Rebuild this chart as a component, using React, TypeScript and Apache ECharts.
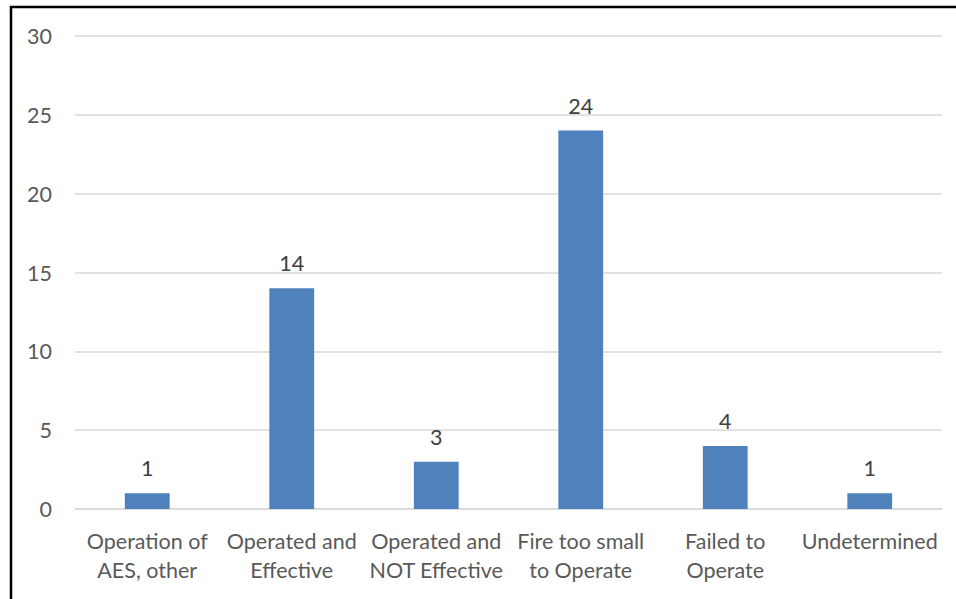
import React, { useEffect, useRef } from "react";
import * as echarts from "echarts";

const categories = [
  "Operation of\nAES, other",
  "Operated and\nEffective",
  "Operated and\nNOT Effective",
  "Fire too small\nto Operate",
  "Failed to\nOperate",
  "Undetermined",
];
const values = [1, 14, 3, 24, 4, 1];

export default function App() {
  const ref = useRef<HTMLDivElement>(null);
  useEffect(() => {
    const chart = echarts.init(ref.current!, null, { renderer: "svg" });
    const font = "Lato, 'Open Sans', sans-serif";
    chart.setOption({
      animation: false,
      backgroundColor: "#ffffff",
      graphic: [
        {
          type: "rect",
          shape: { x: 11, y: 7, width: 1000, height: 700 },
          style: { fill: "none", stroke: "#000000", lineWidth: 2.5 },
          silent: true,
        },
      ],
      grid: { left: 75, right: 14, top: 36, bottom: 90 },
      xAxis: {
        type: "category",
        data: categories,
        axisLine: { lineStyle: { color: "#d9d9d9", width: 1.5 } },
        axisTick: { show: false },
        axisLabel: {
          color: "#595959",
          fontFamily: font,
          fontSize: 21.5,
          lineHeight: 29,
          margin: 17,
          interval: 0,
        },
      },
      yAxis: {
        type: "value",
        min: 0,
        max: 30,
        interval: 5,
        axisLine: { show: false },
        axisTick: { show: false },
        splitLine: { lineStyle: { color: "#d9d9d9", width: 1.5 } },
        axisLabel: {
          color: "#595959",
          fontFamily: font,
          fontSize: 21.5,
          margin: 23,
        },
      },
      series: [
        {
          type: "bar",
          data: values,
          barWidth: "31%",
          itemStyle: { color: "#4f81bd" },
          label: {
            show: true,
            position: "top",
            distance: 14,
            color: "#404040",
            fontFamily: font,
            fontSize: 21.5,
          },
        },
      ],
    });
    return () => chart.dispose();
  }, []);
  return (
    <div
      ref={ref}
      style={{ position: "fixed", left: 0, top: 0, width: 956, height: 599 }}
    />
  );
}
